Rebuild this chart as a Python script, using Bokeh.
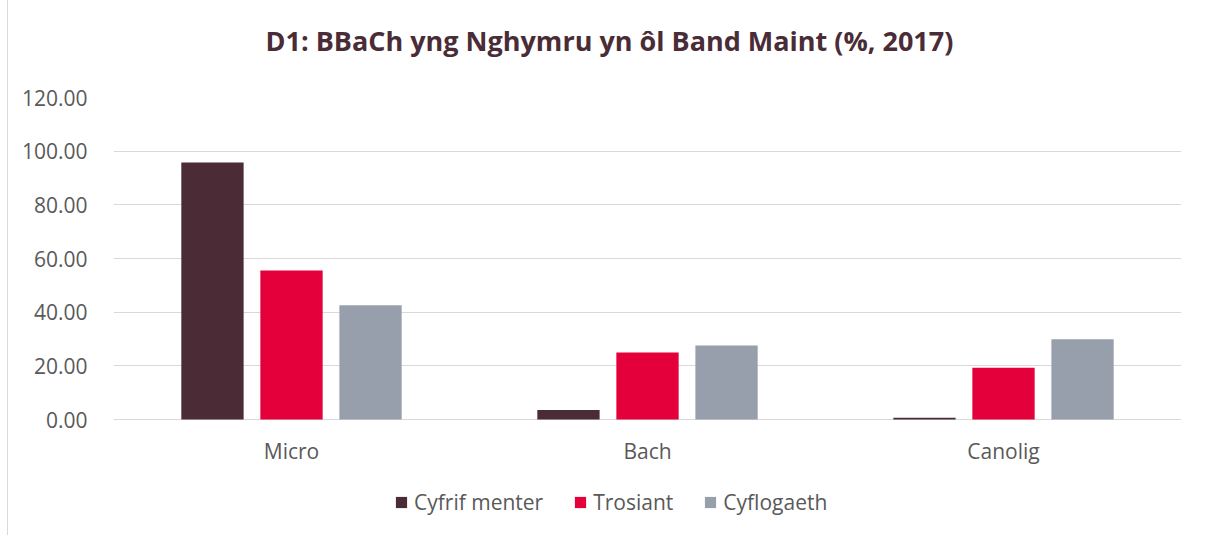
from bokeh.plotting import figure
from bokeh.models import ColumnDataSource, Legend, LegendItem, FactorRange, NumeralTickFormatter, Range1d
from bokeh.transform import dodge
from bokeh.core.properties import value
from bokeh.embed import file_html
from bokeh.resources import INLINE

# ---- data ----
categories = ["Micro", "Bach", "Canolig"]
series_names = ["Cyfrif menter", "Trosiant", "Cyflogaeth"]
cyfrif = [95.8, 3.5, 0.7]
trosiant = [55.5, 25.0, 19.3]
cyflogaeth = [42.6, 27.6, 29.9]
y_ticks = [0, 20, 40, 60, 80, 100, 120]

# ---- style ----
colors = ["#4a2b36", "#e4003b", "#989fac"]
FONT = "Open Sans"
TXT = "#595959"
Y_MIN = -42.48          # extends frame below 0 to hold category labels + legend
LABEL_Y = -11.6

source = ColumnDataSource(dict(cat=categories, a=cyfrif, b=trosiant, c=cyflogaeth,
                               ly=[LABEL_Y] * len(categories)))

p = figure(width=1196, height=563, x_range=FactorRange(*categories), y_range=Range1d(Y_MIN, 120),
           output_backend="svg", toolbar_location=None,
           min_border_left=105, min_border_right=23, min_border_top=125, min_border_bottom=2)
p.styles = {"margin-left": "7px", "margin-top": "-28px",
            "border-left": "1px solid #d9d9d9"}

p.title.text = "D1: BBaCh yng Nghymru yn ôl Band Maint (%, 2017)"
p.title.align = "left"
p.title.offset = 152
p.title.text_font = FONT
p.title.text_font_size = "27px"
p.title.text_font_style = "bold"
p.title.text_color = "#4a2c37"
if "standoff" in p.title.properties():
    p.title.standoff = 78

rs = []
for key, off, col in zip(["a", "b", "c"], [-0.222, 0.0, 0.222], colors):
    r = p.vbar(x=dodge("cat", off, range=p.x_range), top=key, bottom=0, width=0.175, source=source,
               fill_color=col, line_color=None)
    rs.append(r)

# category labels
p.text(x="cat", y="ly", text="cat", source=source, text_align="center", text_baseline="middle",
       text_font=value(FONT), text_font_size="21px", text_color=TXT)

p.outline_line_color = None
p.xaxis.visible = False
p.xgrid.grid_line_color = None
p.ygrid.grid_line_color = "#d9d9d9"
p.ygrid.grid_line_width = 1
p.yaxis.ticker = y_ticks
p.yaxis.formatter = NumeralTickFormatter(format="0.00")
ax = p.yaxis[0]
ax.axis_line_color = None
ax.major_tick_line_color = None
ax.minor_tick_line_color = None
ax.major_label_text_font = FONT
ax.major_label_text_font_size = "21px"
ax.major_label_text_color = TXT
ax.major_label_standoff = 20

legend = Legend(items=[LegendItem(label=n, renderers=[r]) for n, r in zip(series_names, rs)],
                orientation="horizontal", location=(281, 17))
legend.label_text_font = FONT
legend.label_text_font_size = "21px"
legend.label_text_color = TXT
legend.glyph_width = 14
legend.glyph_height = 14
legend.label_standoff = 6
legend.spacing = 30
legend.padding = 4
legend.margin = 0
legend.border_line_color = None
legend.background_fill_alpha = 0
p.add_layout(legend)

open("out.html", "w").write(file_html(p, INLINE))
